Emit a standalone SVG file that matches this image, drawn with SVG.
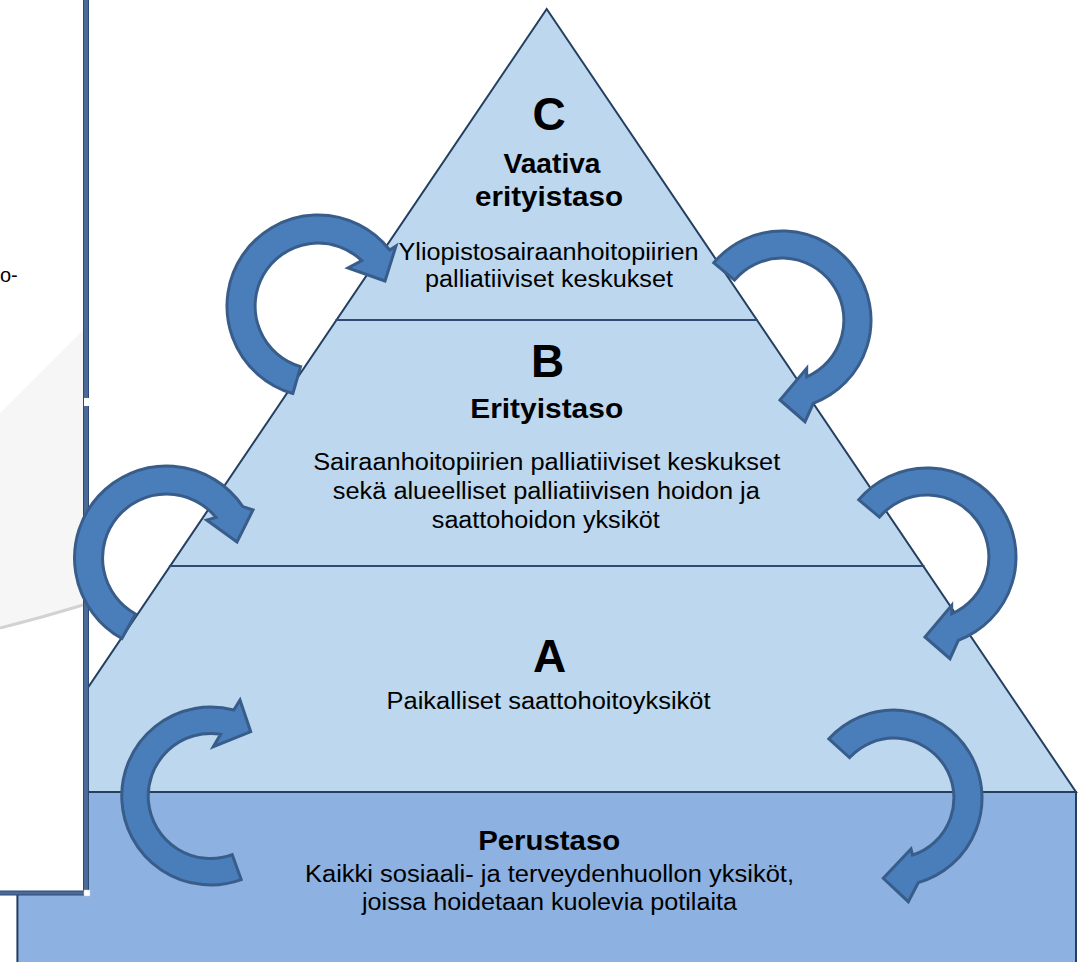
<svg xmlns="http://www.w3.org/2000/svg" width="1078" height="962" viewBox="0 0 1078 962">
  <style>
    .lvl { fill: #BDD7EE; stroke: #243F60; stroke-width: 2; }
    .base { fill: #8DB1E0; stroke: #243F60; stroke-width: 2; }
    .sep { stroke: #2F4B73; stroke-width: 2; fill: none; }
    .arr { fill: #4A7EBB; stroke: #385D8A; stroke-width: 3; stroke-linejoin: miter; }
    .big { font-family: "Liberation Sans", Arial, sans-serif; font-weight: bold; font-size: 46px; fill: #000; text-anchor: middle; }
    .head { font-family: "Liberation Sans", Arial, sans-serif; font-weight: bold; font-size: 27px; fill: #000; text-anchor: middle; }
    .body { font-family: "Liberation Sans", Arial, sans-serif; font-size: 23px; fill: #000; text-anchor: middle; }
    .frame { fill: #4A6B9A; stroke: #2E4A74; stroke-width: 1; }
  </style>
  <rect width="1078" height="962" fill="#FFFFFF"/>

  <g id="base-level">
    <rect class="base" x="17.4" y="792" width="1058.6" height="180"/>
  </g>

  <g id="pyramid">
    <polygon class="lvl" points="546.7,9 1076,792 17.4,792"/>
    <line class="sep" x1="335.5" y1="320" x2="757.9" y2="320"/>
    <line class="sep" x1="168.9" y1="566" x2="924.5" y2="566"/>
  </g>

  <g id="side-panel">
    <rect x="0" y="0" width="86" height="893" fill="#FFFFFF"/>
    <path d="M0,413 L83,330 L83,605 Q40,618 0,628 Z" fill="#F6F6F7"/>
    <path d="M0,628 Q40,618 83,605" fill="none" stroke="#D2D2D2" stroke-width="3"/>
    <text x="0" y="282" font-family="Liberation Sans, Arial, sans-serif" font-size="20" fill="#000">o-</text>
  </g>

  <g id="panel-frame">
    <rect class="frame" x="83.5" y="-2" width="5" height="897"/>
    <rect class="frame" x="-2" y="891" width="90.5" height="4"/>
    <rect x="84" y="398" width="5" height="8" fill="#FFFFFF"/>
    <rect x="84" y="890" width="6" height="6" fill="#FFFFFF" stroke="#C8C8C8" stroke-width="0.5"/>
  </g>

  <g id="connectors">
    <path id="arrow-c-left" class="arr" d="M292.9,393.5 A91,91 0 1 1 389.7,250 L396,246 L385,281 L348,268 L361.8,260.7 A63,63 0 1 0 300.6,366.6 Z"/>
    <path id="arrow-c-right" class="arr" d="M713.8,262.8 A89,89 0 1 1 813.3,403.3 L805,421.7 L780,400 L806.7,368.3 L806.7,376.9 A62,62 0 1 0 734.5,280.1 Z"/>
    <path id="arrow-b-right" class="arr" d="M858.8,499.8 A89,89 0 1 1 958.3,640.3 L950,658.7 L925,637 L951.7,605.3 L951.7,613.9 A62,62 0 1 0 879.5,517.1 Z"/>
    <path id="arrow-a-right" class="arr" d="M828.9,738.8 A88,88 0 1 1 918.3,882.6 L908.3,901.7 L883.3,878.3 L911,849 L912.5,855.1 A60,60 0 1 0 849.6,757.6 Z"/>
    <path id="arrow-b-left" class="arr" d="M121.9,638.5 A92,92 0 1 1 242.8,506.6 L253,510 L237,542 L206.7,520 L216,517.4 A64,64 0 1 0 135.5,614 Z"/>
    <path id="arrow-a-left" class="arr" d="M241.2,879.6 A89,89 0 1 1 233.8,710 L240,700 L250.7,731.7 L213.3,746.7 L220.6,734.3 A62.5,62.5 0 1 0 232.2,854.7 Z"/>
  </g>

  <g id="level-c">
    <text class="big" x="549" y="130">C</text>
    <text class="head" x="552" y="173" textLength="97" lengthAdjust="spacingAndGlyphs">Vaativa</text>
    <text class="head" x="549" y="206" textLength="148" lengthAdjust="spacingAndGlyphs">erityistaso</text>
    <text class="body" x="548.5" y="260" textLength="300" lengthAdjust="spacingAndGlyphs">Yliopistosairaanhoitopiirien</text>
    <text class="body" x="549" y="287" textLength="248" lengthAdjust="spacingAndGlyphs">palliatiiviset keskukset</text>
  </g>

  <g id="level-b">
    <text class="big" x="547.5" y="377" font-size="44">B</text>
    <text class="head" x="546.7" y="418" textLength="153" lengthAdjust="spacingAndGlyphs">Erityistaso</text>
    <text class="body" x="546.7" y="469.5" textLength="467" lengthAdjust="spacingAndGlyphs">Sairaanhoitopiirien palliatiiviset keskukset</text>
    <text class="body" x="546.3" y="498.5" textLength="427" lengthAdjust="spacingAndGlyphs">sekä alueelliset palliatiivisen hoidon ja</text>
    <text class="body" x="545.8" y="527.5" textLength="228" lengthAdjust="spacingAndGlyphs">saattohoidon yksiköt</text>
  </g>

  <g id="level-a">
    <text class="big" x="549.5" y="671.7">A</text>
    <text class="body" x="548.5" y="709.3" textLength="324" lengthAdjust="spacingAndGlyphs">Paikalliset saattohoitoyksiköt</text>
  </g>

  <g id="level-perus">
    <text class="head" x="549.2" y="850" textLength="142" lengthAdjust="spacingAndGlyphs">Perustaso</text>
    <text class="body" x="549.5" y="881.7" textLength="489" lengthAdjust="spacingAndGlyphs">Kaikki sosiaali- ja terveydenhuollon yksiköt,</text>
    <text class="body" x="549.5" y="910" textLength="375" lengthAdjust="spacingAndGlyphs">joissa hoidetaan kuolevia potilaita</text>
  </g>
</svg>
